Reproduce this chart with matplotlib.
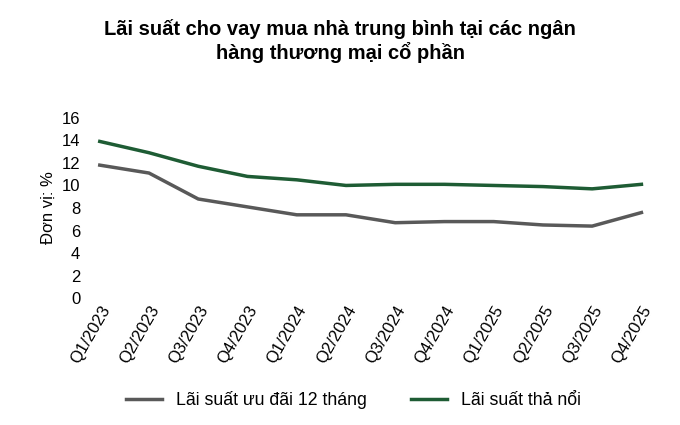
import matplotlib
matplotlib.use("Agg")
import matplotlib.pyplot as plt

quarters = ["Q1/2023","Q2/2023","Q3/2023","Q4/2023","Q1/2024","Q2/2024","Q3/2024","Q4/2024","Q1/2025","Q2/2025","Q3/2025","Q4/2025"]
uu_dai = [11.8, 11.1, 8.8, 8.1, 7.4, 7.4, 6.7, 6.8, 6.8, 6.5, 6.4, 7.6]
tha_noi = [13.9, 12.9, 11.7, 10.8, 10.5, 10.0, 10.1, 10.1, 10.0, 9.9, 9.7, 10.1]

plt.rcParams['font.family'] = ['Liberation Sans', 'DejaVu Sans']
fig = plt.figure(figsize=(6.8, 4.25), dpi=100)
ax = fig.add_axes([0.125, 0.298, 0.84, 0.425])
x = range(len(quarters))
ax.plot(x, uu_dai, color="#595959", lw=2.5, label="Lãi suất ưu đãi 12 tháng")
ax.plot(x, tha_noi, color="#1e5c34", lw=2.5, label="Lãi suất thả nổi")
ax.set_ylim(0, 16)
ax.set_yticks(range(0, 17, 2))
ax.set_xlim(-0.3, len(quarters) - 0.7)
ax.set_xticks(list(x))
ax.set_xticklabels(quarters, rotation=60, ha="right", rotation_mode="anchor", fontsize=12)
ax.tick_params(axis="y", labelsize=12, length=0)
ax.tick_params(axis="x", length=0)
for s in ax.spines.values():
    s.set_visible(False)
ax.set_ylabel("Đơn vị: %", fontsize=12)
fig.suptitle("Lãi suất cho vay mua nhà trung bình tại các ngân\nhàng thương mại cổ phần",
             fontsize=14.5, fontweight="bold", x=0.5, y=0.955)
fig.legend(loc="lower center", ncol=2, frameon=False, fontsize=12.8,
           bbox_to_anchor=(0.52, 0.0), handlelength=2.0, columnspacing=2.5)
fig.savefig("out.png", dpi=100)
